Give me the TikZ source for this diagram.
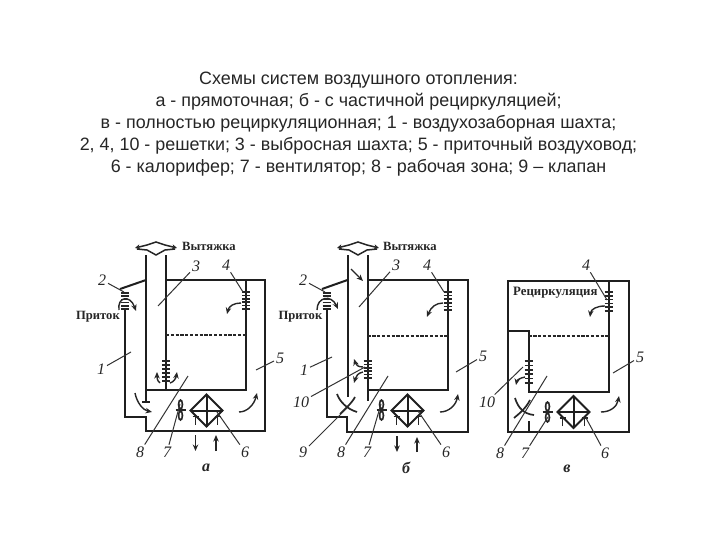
\documentclass[tikz,border=0pt]{standalone}
\usepackage{fontspec}
\setmainfont{Liberation Sans}
\newfontfamily\serifdiag{Liberation Serif}
\usetikzlibrary{arrows.meta}
\tikzset{
 wall/.style={line width=2pt,black!88},
 lead/.style={line width=1pt,black!80},
 flow/.style={line width=1.4pt,black!85,-{Stealth[length=6.5pt,width=5.5pt]}},
 blade/.style={line width=1.7pt,black!85},
 dashwall/.style={line width=1.8pt,black!85,dash pattern=on 3.2pt off 1.6pt},
 num/.style={font=\serifdiag\itshape\fontsize{16}{16}\selectfont,inner sep=0pt,outer sep=2pt,black!85},
 panelmark/.style={font=\serifdiag\bfseries\itshape\fontsize{16}{16}\selectfont,inner sep=0pt,black!85},
 word/.style={font=\serifdiag\bfseries\fontsize{12.6}{13}\selectfont,inner sep=0pt,black!85},
 titletext/.style={font=\fontsize{17.9}{22}\selectfont,align=center,inner sep=0pt,black!85},
}
\newcommand{\grillebars}[4]{%
 \foreach \k in {0,1,2,3,4,5}{\draw[line width=1.5pt,black!85] ({#1-#4},{#2+(#3-#2)*\k/5}) -- ({#1+#4},{#2+(#3-#2)*\k/5});}%
}
\newcommand{\fanshape}[2]{%
 \fill[black!85] (#1,#2-5.5) ellipse (2.8 and 5.5);
 \fill[black!85] (#1,#2+5.5) ellipse (2.8 and 5.5);
 \fill[white] (#1,#2-5.5) ellipse (1 and 3);
 \fill[white] (#1,#2+5.5) ellipse (1 and 3);
 \draw[line width=1.4pt,black!85] (#1-5,#2) -- (#1+5,#2);
}
\newcommand{\heatershape}[2]{%
 \draw[wall] (#1-16,#2) -- (#1,#2-16) -- (#1+16,#2) -- (#1,#2+16) -- cycle;
 \draw[wall] (#1-16,#2) -- (#1+16,#2) (#1,#2-16) -- (#1,#2+16);
 \draw[line width=1.8pt,black!85] (#1-11,#2+14) -- (#1-11,#2+5) (#1+11,#2+14) -- (#1+11,#2+5) (#1-14,#2+6) -- (#1-8,#2+6) (#1+8,#2+6) -- (#1+14,#2+6);
}
\newcommand{\roofcap}[2]{%
 \draw[line width=1.5pt,black!85,{Stealth[length=5pt,width=5pt]}-{Stealth[length=5pt,width=5pt]}] (#1-21,#2+1) -- (#1-9,#2-2) -- (#1,#2-5) -- (#1+9,#2-2) -- (#1+21,#2+1);
 \draw[line width=1.5pt,black!85] (#1-19,#2+2) -- (#1-9,#2+3) -- (#1,#2+8) -- (#1+9,#2+3) -- (#1+19,#2+2);
}
\begin{document}
\begin{tikzpicture}[x=1pt,y=-1pt]
\useasboundingbox (0,0) rectangle (720,540);
\fill[white] (0,0) rectangle (720,540);
\node[titletext] (title) at (358.5,124) {Схемы систем воздушного отопления:\\а - прямоточная; б - с частичной рециркуляцией;\\в - полностью рециркуляционная; 1 - воздухозаборная шахта;\\2, 4, 10 - решетки; 3 - выбросная шахта; 5 - приточный воздуховод;\\6 - калорифер; 7 - вентилятор; 8 - рабочая зона; 9 – клапан};

% ---------- panel a ----------
\coordinate (a3) at (158,306); \coordinate (a4) at (243,292);
\coordinate (a2) at (124,292); \coordinate (a1) at (131,352);
\coordinate (a5) at (256,370); \coordinate (a8) at (188,376);
\coordinate (a7) at (180,404); \coordinate (a6) at (217,412);
\node[num] (n3a) at (196,266) {3}; \node[num] (n4a) at (226,265) {4};
\node[num] (n2a) at (102,280) {2}; \node[num] (n1a) at (101,369) {1};
\node[num] (n5a) at (280,358) {5};
\node[num] (n8a) at (140,452) {8}; \node[num] (n7a) at (167,452) {7}; \node[num] (n6a) at (245,452) {6};
\node[panelmark] (na) at (206,468) {а};
\draw[wall] (146,255) -- (146,402) (142,402) -- (150,402);
\draw[wall] (166,255) -- (166,391);
\draw[wall] (166,280) -- (265,280) -- (265,431) -- (146,431) -- (146,416.5) -- (125,416.5) -- (125,310);
\draw[wall] (246,280) -- (246,390) -- (146,390);
\draw[dashwall] (166,335) -- (246,335);
\draw[wall] (120,289) -- (146,280);
\grillebars{125}{293}{309}{4}
\grillebars{246}{292}{309}{4}
\grillebars{166}{361}{381}{4}
\roofcap{156}{247}
\fanshape{180.5}{410}
\heatershape{206.5}{410.5}
\draw[flow] (119,310) .. controls (117,297) and (130,294) .. (136,311);
\draw[flow] (241,303) .. controls (234,303) and (229,306) .. (227,314);
\draw[flow] (160,383) .. controls (157,381) and (157,377) .. (157,372);
\draw[flow] (170,383) .. controls (174,382) and (176,378) .. (177,372);
\draw[flow] (135,393) .. controls (137,403) and (143,410) .. (152,412);
\draw[flow] (239,412) .. controls (247,412) and (254,405) .. (257,393);
\draw[flow] (195.5,435) -- (195.5,451);
\draw[flow] (216,451) -- (216,435);
\draw[lead] (a3) -- (n3a);
\draw[lead] (a4) -- (n4a);
\draw[lead] (a2) -- (n2a);
\draw[lead] (a1) -- (n1a);
\draw[lead] (a5) -- (n5a);
\draw[lead] (a8) -- (n8a);
\draw[lead] (a7) -- (n7a);
\draw[lead] (a6) -- (n6a);
\node[word,anchor=west] (av) at (182,246) {Вытяжка};
\node[word,anchor=east] (ap) at (120,317) {Приток};

% ---------- panel b ----------
\coordinate (b3) at (359,307); \coordinate (b4) at (444,292);
\coordinate (b2) at (325,292); \coordinate (b1) at (332,357);
\coordinate (b5) at (456,372); \coordinate (b8) at (388,376);
\coordinate (b7) at (381,404); \coordinate (b6) at (418,411);
\coordinate (b9) at (347,408); \coordinate (b10) at (365,367);
\node[num] (n3b) at (396,265) {3}; \node[num] (n4b) at (427,265) {4};
\node[num] (n2b) at (303,280) {2}; \node[num] (n1b) at (304,370) {1};
\node[num] (n5b) at (483,356) {5}; \node[num] (n10b) at (301,402) {10};
\node[num] (n9b) at (303,452) {9};
\node[num] (n8b) at (341,452) {8}; \node[num] (n7b) at (367,452) {7}; \node[num] (n6b) at (446,452) {6};
\node[panelmark] (nb) at (406,468) {б};
\draw[wall] (347.5,255) -- (347.5,397);
\draw[wall] (367.5,255) -- (367.5,401);
\draw[wall] (367.5,280) -- (467.5,280) -- (467.5,431.5) -- (346.5,431.5) -- (346.5,416.5) -- (326.5,416.5) -- (326.5,310);
\draw[wall] (447.5,280) -- (447.5,390) -- (367.5,390);
\draw[dashwall] (367.5,336) -- (447.5,336);
\draw[wall] (322,289) -- (347.5,280);
\grillebars{326.5}{293}{309}{4}
\grillebars{447.5}{292}{310}{4}
\grillebars{367.5}{361}{378}{4}
\roofcap{358}{247}
\fanshape{381.5}{410}
\heatershape{407.5}{410.5}
\draw[flow] (351,269) -- (363,281);
\draw[flow] (317,310) .. controls (317,297) and (331,294) .. (338,309);
\draw[flow] (443,303) .. controls (436,303) and (431,307) .. (427,317);
\draw[flow] (363,367) .. controls (358,367) and (356,365) .. (354,359);
\draw[flow] (363,372) .. controls (358,373) and (356,376) .. (354,383);
\draw[blade] (337,394) .. controls (340,402) and (347,409) .. (357,412);
\draw[blade] (355,397) .. controls (352,403) and (344,410) .. (340,414);
\draw[flow] (440,412) .. controls (449,412) and (456,405) .. (458,394);
\draw[flow] (397,436) -- (397,452);
\draw[flow] (417,452) -- (417,437);
\draw[lead] (b3) -- (n3b);
\draw[lead] (b4) -- (n4b);
\draw[lead] (b2) -- (n2b);
\draw[lead] (b1) -- (n1b);
\draw[lead] (b5) -- (n5b);
\draw[lead] (b8) -- (n8b);
\draw[lead] (b7) -- (n7b);
\draw[lead] (b6) -- (n6b);
\draw[lead] (b9) -- (n9b);
\draw[lead] (b10) -- (n10b);
\node[word,anchor=west] (bv) at (383,246) {Вытяжка};
\node[word,anchor=east] (bp) at (322.5,317) {Приток};

% ---------- panel c ----------
\coordinate (c4) at (607,300); \coordinate (c5) at (613,373);
\coordinate (c10) at (523,367); \coordinate (c8) at (547,376);
\coordinate (c7) at (548,417); \coordinate (c6) at (586,418);
\node[num] (n4c) at (586,265) {4}; \node[num] (n5c) at (640,357) {5};
\node[num] (n10c) at (487,402) {10};
\node[num] (n8c) at (500,453) {8}; \node[num] (n7c) at (525,453) {7}; \node[num] (n6c) at (605,453) {6};
\node[panelmark] (nc) at (567,469) {в};
\draw[wall] (507.5,281) rectangle (628.5,432);
\draw[wall] (608.5,281) -- (608.5,391.5) -- (528.5,391.5) -- (528.5,331) -- (507.5,331);
\draw[wall] (528.5,421) -- (528.5,432);
\draw[dashwall] (528.5,336) -- (608.5,336);
\grillebars{528.5}{361}{383}{4}
\grillebars{608.5}{292}{311}{4}
\fanshape{547.5}{412}
\heatershape{573.5}{412}
\draw[flow] (605,306) .. controls (597,306) and (591,309) .. (590,317);
\draw[flow] (525,377) .. controls (520,378) and (517,380) .. (516,385);
\draw[blade] (515,398) .. controls (518,408) and (524,414) .. (534,415);
\draw[blade] (530,400) .. controls (526,408) and (520,413) .. (514,418);
\draw[flow] (601,412) .. controls (610,412) and (617,407) .. (619,396);
\draw[lead] (c4) -- (n4c);
\draw[lead] (c5) -- (n5c);
\draw[lead] (c10) -- (n10c);
\draw[lead] (c8) -- (n8c);
\draw[lead] (c7) -- (n7c);
\draw[lead] (c6) -- (n6c);
\node[word,anchor=west,font=\serifdiag\bfseries\fontsize{12.8}{13}\selectfont] (cr) at (513,293) {Рециркуляция};
\end{tikzpicture}
\end{document}
